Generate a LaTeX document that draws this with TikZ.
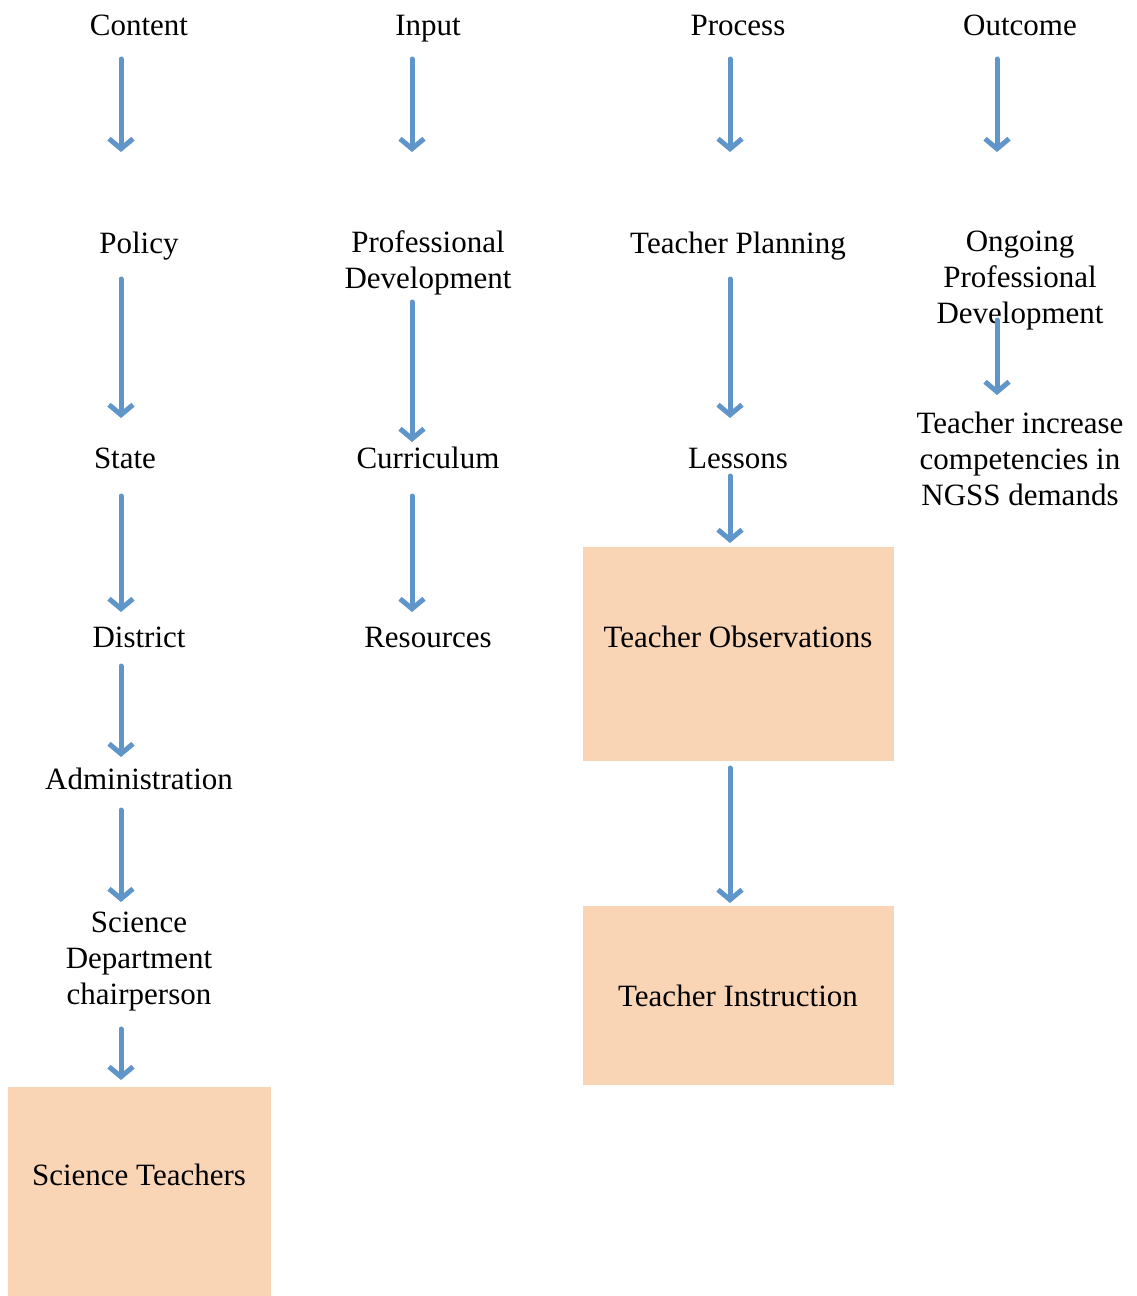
\documentclass[tikz,border=0pt]{standalone}
\usepackage{fontspec}
\setmainfont{Liberation Serif}
\usetikzlibrary{arrows.meta}
\definecolor{arrowblue}{RGB}{96,149,201}
\definecolor{peach}{RGB}{249,212,181}
\tikzset{
  lbl/.style={align=center, inner sep=0pt, font=\fontsize{31}{36}\selectfont},
  one/.style={lbl, text height=22pt, text depth=6pt},
  box/.style={fill=peach, draw=none},
  arr/.style={draw=arrowblue, line width=5pt, line cap=round, -{Straight Barb[length=10pt,width=24pt,line width=5pt]}},
}
\begin{document}
\begin{tikzpicture}[x=1pt,y=-1pt]
\useasboundingbox (0,0) rectangle (1137,1296);
% boxes
\fill[box] (583,547) rectangle (894,761);
\fill[box] (583,906) rectangle (894,1085);
\fill[box] (8,1087) rectangle (271,1296);
% column heads
\node[one] (content) at (139,27) {Content};
\node[one] (input) at (428,27) {Input};
\node[one] (process) at (738,27) {Process};
\node[one] (outcome) at (1020,27) {Outcome};
% column 1
\node[one] (policy) at (139,245) {Policy};
\node[one] (state) at (125,460) {State};
\node[one] (district) at (139,639) {District};
\node[one] (admin) at (139,781) {Administration};
\node[lbl] (chair) at (139,962) {Science\\Department\\chairperson};
\node[one] (sciteach) at (139,1177) {Science Teachers};
% column 2
\node[lbl] (profdev) at (428,263) {Professional\\Development};
\node[one] (curric) at (428,460) {Curriculum};
\node[one] (resources) at (428,639) {Resources};
% column 3
\node[one] (planning) at (738,245) {Teacher Planning};
\node[one] (lessons) at (738,460) {Lessons};
\node[one] (observ) at (738,639) {Teacher Observations};
\node[one] (instr) at (738,998) {Teacher Instruction};
% column 4
\node[lbl] (ongoing) at (1020,281) {Ongoing\\Professional\\Development};
\node[lbl] (increase) at (1020,459) {Teacher increase\\competencies in\\NGSS demands};
% arrow end points
\coordinate (c1a) at (121,59);  \coordinate (c1b) at (121,152);
\coordinate (c1c) at (121,279); \coordinate (c1d) at (121,418);
\coordinate (c1e) at (121,496); \coordinate (c1f) at (121,612);
\coordinate (c1g) at (121,666); \coordinate (c1h) at (121,757);
\coordinate (c1i) at (121,810); \coordinate (c1j) at (121,902);
\coordinate (c1k) at (121,1029);\coordinate (c1l) at (121,1080);
\coordinate (c2a) at (412,59);  \coordinate (c2b) at (412,152);
\coordinate (c2c) at (412,302); \coordinate (c2d) at (412,442);
\coordinate (c2e) at (412,496); \coordinate (c2f) at (412,612);
\coordinate (c3a) at (730,59);  \coordinate (c3b) at (730,152);
\coordinate (c3c) at (730,279); \coordinate (c3d) at (730,418);
\coordinate (c3e) at (730,476); \coordinate (c3f) at (730,543);
\coordinate (c3g) at (730,768); \coordinate (c3h) at (730,903);
\coordinate (c4a) at (997,59);  \coordinate (c4b) at (997,152);
\coordinate (c4c) at (997,320); \coordinate (c4d) at (997,395);
% arrows
\foreach \s/\e in {c1a/c1b,c1c/c1d,c1e/c1f,c1g/c1h,c1i/c1j,c1k/c1l,
                   c2a/c2b,c2c/c2d,c2e/c2f,
                   c3a/c3b,c3c/c3d,c3e/c3f,c3g/c3h,
                   c4a/c4b,c4c/c4d}
  \draw[arr] (\s) -- (\e);
\end{tikzpicture}
\end{document}
